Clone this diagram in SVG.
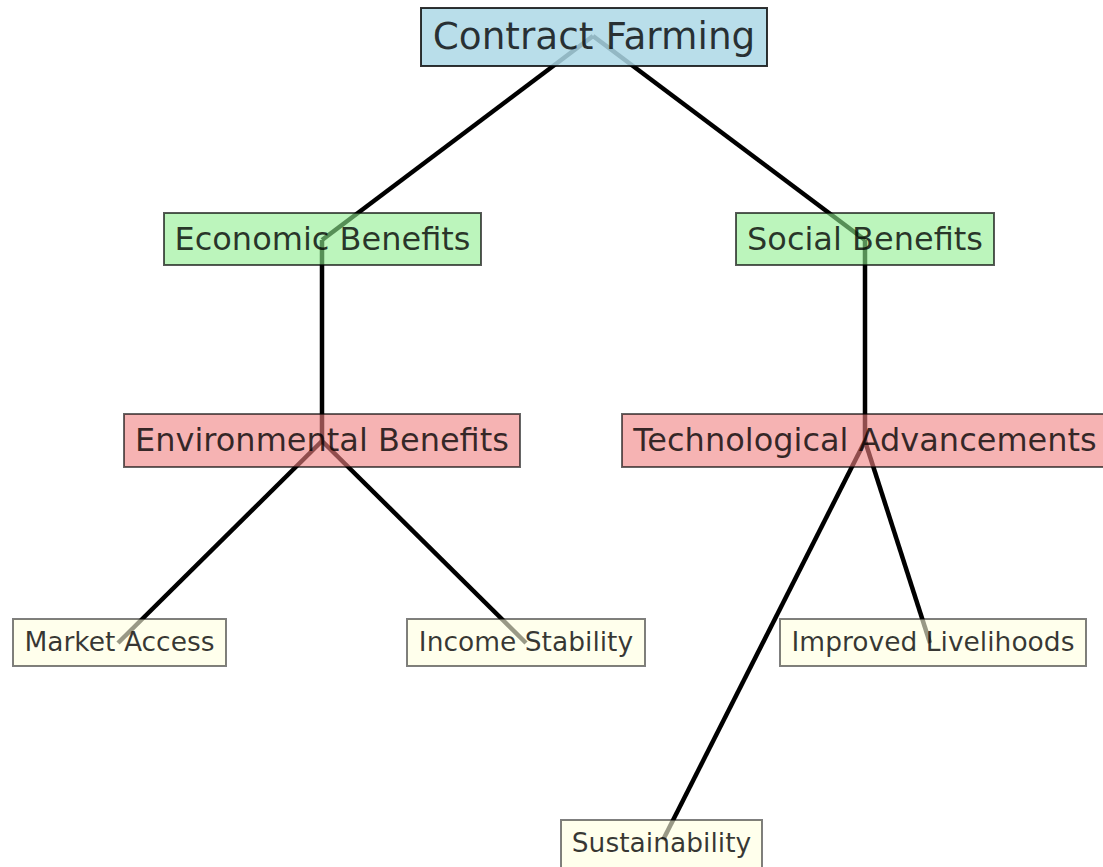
<svg xmlns="http://www.w3.org/2000/svg" width="1103" height="867" viewBox="0 0 1103 867">
  <style>
    .edge { stroke: #000; stroke-width: 4.5; fill: none; }
    .box { stroke: #000; stroke-width: 2; }
    .lbl { font-family: "DejaVu Sans", sans-serif; text-anchor: middle; fill: #000; fill-opacity: 0.78; }
    .l1 rect { fill: #add8e6; fill-opacity: 0.85; stroke-opacity: 0.8; }
    .l2 rect { fill: #90ee90; fill-opacity: 0.6; stroke-opacity: 0.65; }
    .l3 rect { fill: #f08080; fill-opacity: 0.6; stroke-opacity: 0.6; }
    .l4 rect { fill: #ffffe0; fill-opacity: 0.6; stroke-opacity: 0.5; }
    .l1 text { font-size: 37.4px; }
    .l2 text { font-size: 32px; }
    .l3 text { font-size: 32px; }
    .l4 text { font-size: 26.5px; }
  </style>
  <rect width="1103" height="867" fill="#fff"/>

  <!-- connectors sit beneath the translucent label boxes -->
  <g id="edges">
    <line class="edge" x1="593" y1="36" x2="322" y2="240"/>
    <line class="edge" x1="593" y1="36" x2="865" y2="240"/>
    <line class="edge" x1="322" y1="240" x2="322" y2="441"/>
    <line class="edge" x1="865" y1="240" x2="865" y2="441"/>
    <line class="edge" x1="322" y1="441" x2="118" y2="643"/>
    <line class="edge" x1="322" y1="441" x2="526" y2="643"/>
    <line class="edge" x1="865" y1="441" x2="930" y2="643"/>
    <line class="edge" x1="865" y1="441" x2="663" y2="840"/>
  </g>

  <g id="contract-farming" class="l1">
    <rect class="box" x="421" y="8" width="346" height="58"/>
    <text class="lbl" x="594" y="49">Contract Farming</text>
  </g>

  <g id="economic-benefits" class="l2">
    <rect class="box" x="164" y="213" width="317" height="52"/>
    <text class="lbl" x="322.5" y="250">Economic Benefits</text>
  </g>
  <g id="social-benefits" class="l2">
    <rect class="box" x="736" y="213" width="258" height="52"/>
    <text class="lbl" x="865" y="250">Social Benefits</text>
  </g>

  <g id="environmental-benefits" class="l3">
    <rect class="box" x="124" y="414" width="396" height="53"/>
    <text class="lbl" x="322" y="451">Environmental Benefits</text>
  </g>
  <g id="technological-advancements" class="l3">
    <rect class="box" x="622" y="414" width="486" height="53"/>
    <text class="lbl" x="865" y="451">Technological Advancements</text>
  </g>

  <g id="market-access" class="l4">
    <rect class="box" x="13" y="619" width="213" height="47"/>
    <text class="lbl" x="119.5" y="651">Market Access</text>
  </g>
  <g id="income-stability" class="l4">
    <rect class="box" x="407" y="619" width="238" height="47"/>
    <text class="lbl" x="526" y="651">Income Stability</text>
  </g>
  <g id="improved-livelihoods" class="l4">
    <rect class="box" x="780" y="619" width="306" height="47"/>
    <text class="lbl" x="933" y="651">Improved Livelihoods</text>
  </g>
  <g id="sustainability" class="l4">
    <rect class="box" x="561" y="820" width="201" height="50"/>
    <text class="lbl" x="661.5" y="852">Sustainability</text>
  </g>
</svg>
